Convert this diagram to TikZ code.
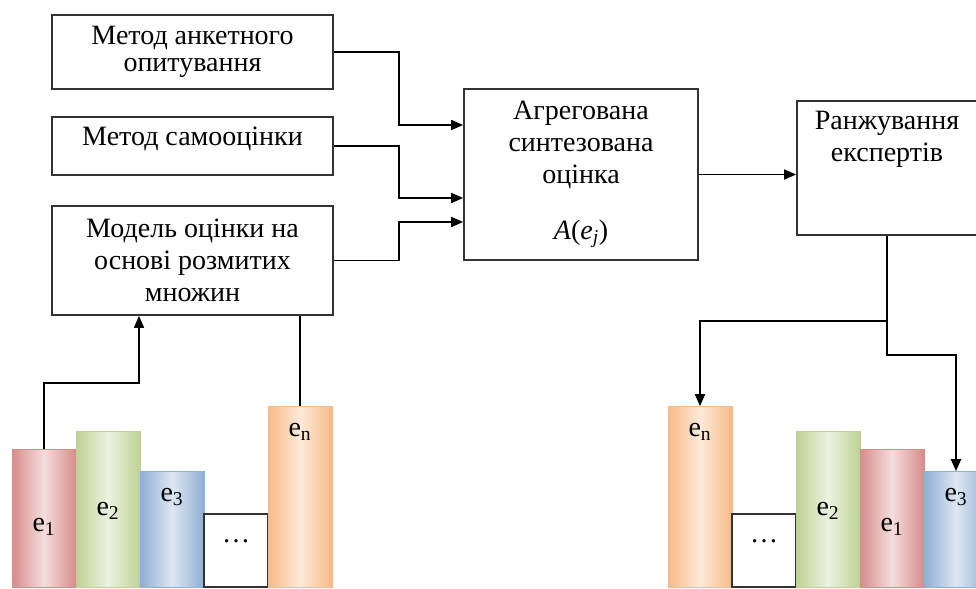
\documentclass[tikz,border=0pt]{standalone}
\usepackage{fontspec}
\setmainfont{Liberation Serif}
\usetikzlibrary{arrows.meta}
\usetikzlibrary{calc}
\usetikzlibrary{shapes}

\definecolor{redE}{RGB}{214,140,138}
\definecolor{redM}{RGB}{244,222,222}
\definecolor{greenE}{RGB}{190,210,148}
\definecolor{greenM}{RGB}{236,242,224}
\definecolor{blueE}{RGB}{142,174,212}
\definecolor{blueM}{RGB}{222,231,242}
\definecolor{orangeE}{RGB}{249,186,135}
\definecolor{orangeM}{RGB}{253,234,218}

\begin{document}
\begin{tikzpicture}[x=0.75pt, y=-0.75pt, line width=1.3pt,
        font=\fontsize{21}{24}\selectfont,
        box_style/.style={rectangle,draw=black!80,fill=white,align=center,minimum width=210.75pt},
        bar_style/.style={rectangle,anchor=south,minimum width=48pt,line width=0.6pt},
        red_bar/.style={bar_style,draw=redE,left color=redE,right color=redE,middle color=redM},
        green_bar/.style={bar_style,draw=greenE,left color=greenE,right color=greenE,middle color=greenM},
        blue_bar/.style={bar_style,draw=blueE,left color=blueE,right color=blueE,middle color=blueM},
        orange_bar/.style={bar_style,draw=orangeE,left color=orangeE,right color=orangeE,middle color=orangeM},
        dots_bar/.style={bar_style,draw=black!80,fill=white,line width=1.3pt},
        edge_style/.style={draw=black,-{Triangle[length=9pt,width=7.5pt]}},
        line_style/.style={draw=black}]

        \useasboundingbox (0,0) rectangle (976,589);

        \node [box_style,minimum height=55.5pt,font=\fontsize{21}{20.5}\selectfont](n1) at (192.5,52) {Метод анкетного\\опитування};

        \node [box_style,minimum height=43.5pt,text depth=15pt](n2) at (192.5,146) {Метод самооцінки};

        \node [box_style,minimum height=81.75pt](n3) at (192.5,260.5) {Модель оцінки на\\основі розмитих\\множин};

        \node [box_style,minimum width=175.5pt,minimum height=128.25pt](n4) at (581,174.5) {Агрегована\\синтезована\\оцінка\\[18pt]\textit{A}(\textit{e}\textsubscript{\textit{j}})};

        \node [box_style,minimum width=135pt,minimum height=100.5pt,text depth=48pt](n5) at (887,168) {Ранжування\\експертів};

        % experts before ranking
        \node [red_bar,minimum height=103.5pt,label={[anchor=center,yshift=-58.5pt]north:e\textsubscript{1}}](bl1) at (44,588) {};

        \node [green_bar,minimum height=117pt,label={[anchor=center,yshift=-60pt]north:e\textsubscript{2}}](bl2) at (108,588) {};

        \node [blue_bar,minimum height=87pt,label={[anchor=center,yshift=-19.5pt]north:e\textsubscript{3}}](bl3) at (172,588) {};

        \node [dots_bar,minimum height=54.75pt,label={[anchor=center,yshift=-21pt]north:…}](bl4) at (236,588) {};

        \node [orange_bar,minimum height=135.75pt,label={[anchor=center,yshift=-19.5pt]north:e\textsubscript{n}}](bl5) at (300,588) {};

        % experts after ranking
        \node [orange_bar,minimum height=135.75pt,label={[anchor=center,yshift=-19.5pt]north:e\textsubscript{n}}](br1) at (700,588) {};

        \node [dots_bar,minimum height=54.75pt,label={[anchor=center,yshift=-21pt]north:…}](br2) at (764,588) {};

        \node [green_bar,minimum height=117pt,label={[anchor=center,yshift=-60pt]north:e\textsubscript{2}}](br3) at (828,588) {};

        \node [red_bar,minimum height=103.5pt,label={[anchor=center,yshift=-58.5pt]north:e\textsubscript{1}}](br4) at (892,588) {};

        \node [blue_bar,minimum height=87pt,label={[anchor=center,yshift=-19.5pt]north:e\textsubscript{3}}](br5) at (956,588) {};

        \coordinate (k1) at (139,383);

        \draw [edge_style] (n1.east) -- ++(65,0) |- ($(n4.west)+(0,-49.5)$);

        \draw [edge_style] (n2.east) -- ++(65,0) |- ($(n4.west)+(0,23.5)$);

        \draw [edge_style] (n3.east) -- ++(65,0) |- ($(n4.west)+(0,47.5)$);

        \draw [edge_style] (n4.east) -- (n4.east -| n5.west);

        \draw [edge_style] (bl1.north) |- (k1) -- (k1 |- n3.south);

        \draw [line_style] (bl5.north) -- (bl5.north |- n3.south);

        \draw [edge_style] ($(n5.south)+(0,85)$) -| (br1.north);

        \draw [edge_style] (n5.south) -- ++(0,119) -| (br5.north);

        \end{tikzpicture}
\end{document}
